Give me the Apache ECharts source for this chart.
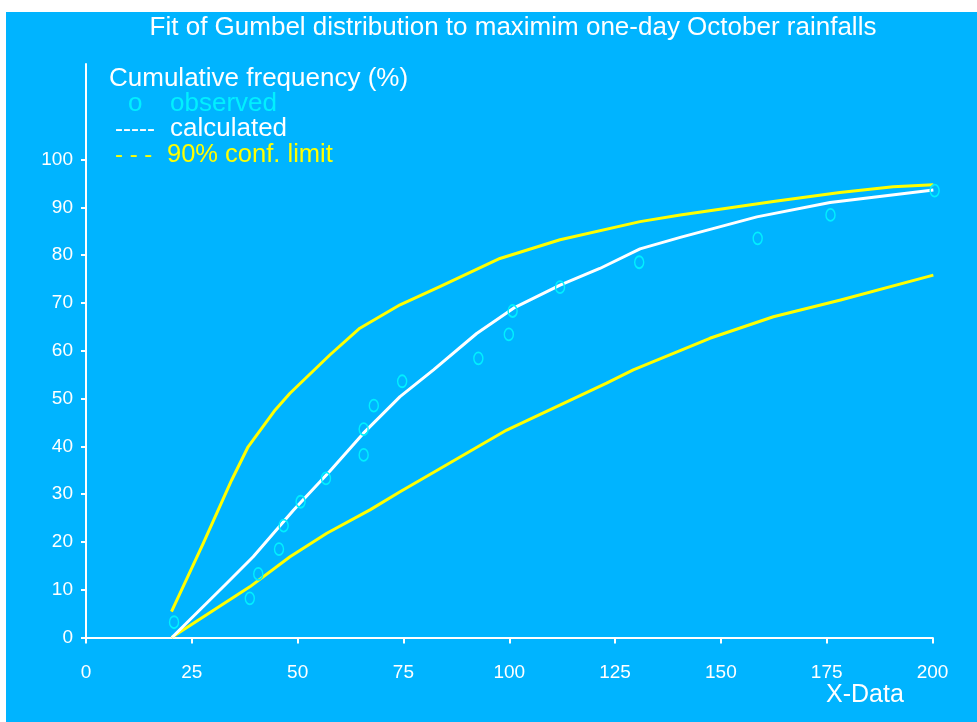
<!DOCTYPE html>
<html>
<head>
<meta charset="utf-8">
<script src="https://cdn.jsdelivr.net/npm/echarts@6/dist/echarts.min.js"></script>
<style>
html,body{margin:0;padding:0;background:#ffffff;width:977px;height:722px;overflow:hidden;}
#c{position:absolute;left:6px;top:12px;width:971px;height:710px;}
</style>
</head>
<body>
<div id="c"></div>
<script>
// ---- data ----
const titleText = 'Fit of Gumbel distribution to maximim one-day October rainfalls';
const xTickValues = [0, 25, 50, 75, 100, 125, 150, 175, 200];
const yTickValues = [0, 10, 20, 30, 40, 50, 60, 70, 80, 90, 100];

const obsX = [20.8, 38.7, 40.7, 45.6, 46.7, 50.7, 56.7, 65.6, 65.6, 68.0, 74.7, 92.7, 99.9, 100.8, 112.0, 130.7, 158.7, 175.9, 200.5];
const obsY = [3.2, 8.2, 13.3, 18.5, 23.4, 28.4, 33.3, 38.2, 43.6, 48.5, 53.6, 58.4, 63.4, 68.3, 73.3, 78.5, 83.5, 88.4, 93.5];

const calcX = [20.3, 33.2, 39.5, 49.0, 57.6, 65.5, 74.2, 82.1, 92.3, 101.0, 112.0, 121.4, 130.9, 140.4, 158.5, 175.8, 200.2];
const calcY = [0.0, 11.3, 16.9, 26.6, 34.8, 42.7, 50.4, 56.0, 63.6, 68.9, 73.7, 77.2, 81.3, 83.7, 88.0, 91.0, 93.6];

const upperX = [20.2, 27.7, 34.4, 38.3, 44.7, 48.2, 57.6, 64.7, 74.2, 83.6, 97.8, 112.0, 130.9, 140.4, 162.4, 178.1, 190.7, 200.2];
const upperY = [5.4, 19.7, 32.9, 39.9, 47.6, 51.1, 59.1, 64.7, 69.6, 73.4, 79.3, 83.2, 87.0, 88.4, 91.2, 93.1, 94.3, 94.7];

const lowerX = [20.2, 38.7, 48.2, 56.9, 67.1, 74.2, 78.9, 99.4, 123.0, 129.3, 147.4, 162.4, 178.3, 200.2];
const lowerY = [0.0, 10.6, 16.9, 21.8, 26.7, 30.5, 32.9, 43.4, 53.2, 56.0, 62.6, 67.1, 70.6, 75.8];

// ---- styling ----
const BG = '#00B4FF';
const CYAN = '#00F0FF';
const YELLOW = '#FFFF00';
const WHITE = '#FFFFFF';
const FONT = '"Liberation Sans", Arial, sans-serif';

const pairs = (xs, ys) => xs.map((x, i) => [x, ys[i]]);

const chart = echarts.init(document.getElementById('c'), null, {renderer: 'canvas'});

function txt(x, y, text, color, size, align) {
  return {
    type: 'text', x: x, y: y, z: 100,
    style: {text: text, fill: color, fontSize: size, fontFamily: FONT,
            textAlign: align || 'left', textVerticalAlign: 'middle'}
  };
}

chart.setOption({
  backgroundColor: BG,
  animation: false,
  grid: {left: 80, right: 44.5, top: 51.9, bottom: 84.5, containLabel: false},
  xAxis: {
    type: 'value', min: 0, max: 200, interval: 25,
    axisLine: {show: true, onZero: false, lineStyle: {color: WHITE, width: 2}},
    axisTick: {show: true, inside: false, length: 6, lineStyle: {color: WHITE, width: 2}},
    axisLabel: {color: WHITE, fontSize: 19, fontFamily: FONT, margin: 26, customValues: xTickValues},
    splitLine: {show: false}
  },
  yAxis: {
    type: 'value', min: 0, max: 120, interval: 10,
    axisLine: {show: true, onZero: false, lineStyle: {color: WHITE, width: 2}},
    axisTick: {show: true, inside: false, length: 5, lineStyle: {color: WHITE, width: 2}, customValues: yTickValues},
    axisLabel: {color: WHITE, fontSize: 19, fontFamily: FONT, margin: 13, customValues: yTickValues},
    splitLine: {show: false}
  },
  graphic: [
    txt(507, 15.5, titleText, WHITE, 26, 'center'),
    txt(103, 67, 'Cumulative frequency (%)', WHITE, 26),
    txt(122, 92, 'o', CYAN, 26),
    txt(164, 92, 'observed', CYAN, 26),
    txt(109, 117, '-----', WHITE, 24),
    txt(164, 117, 'calculated', WHITE, 26),
    txt(109, 143, '- - -', YELLOW, 24),
    txt(161, 143, '90% conf. limit', YELLOW, 25.5),
    txt(820, 683, 'X-Data', WHITE, 25)
  ],
  series: [
    {
      name: 'upper', type: 'line', data: pairs(upperX, upperY),
      showSymbol: false, symbol: 'none', z: 3, smooth: false,
      lineStyle: {color: YELLOW, width: 3, join: 'round'}
    },
    {
      name: 'lower', type: 'line', data: pairs(lowerX, lowerY),
      showSymbol: false, symbol: 'none', z: 3, smooth: false,
      lineStyle: {color: YELLOW, width: 3, join: 'round'}
    },
    {
      name: 'calculated', type: 'line', data: pairs(calcX, calcY),
      showSymbol: false, symbol: 'none', z: 4, smooth: false,
      lineStyle: {color: WHITE, width: 3, join: 'round'}
    },
    {
      name: 'observed', type: 'scatter', data: pairs(obsX, obsY),
      symbol: 'circle', symbolSize: [9, 12], z: 5, clip: false,
      itemStyle: {color: 'rgba(0,0,0,0)', borderColor: CYAN, borderWidth: 1.6, opacity: 1}
    }
  ]
});
</script>
</body>
</html>
